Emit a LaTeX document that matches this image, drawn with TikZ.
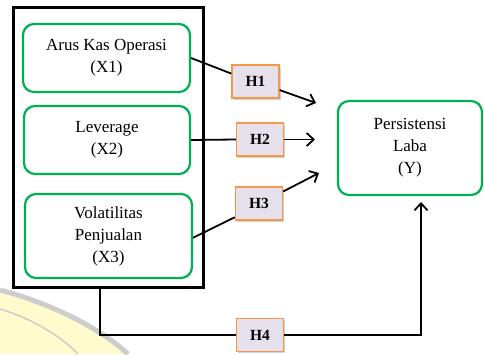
\documentclass[tikz,border=0pt]{standalone}
\usepackage{fontspec}
\setmainfont{Liberation Serif}
\usetikzlibrary{arrows.meta,calc,shadows}
\definecolor{boxgreen}{RGB}{0,176,80}
\definecolor{hborder}{RGB}{247,150,70}
\definecolor{hfill}{RGB}{230,224,236}
\definecolor{wmyellow}{RGB}{255,251,204}
\definecolor{wmgrey}{RGB}{205,205,205}
\tikzset{
  varbox/.style={draw=boxgreen, line width=2.2pt, rounded corners=11pt, fill=white,
    align=center, font=\fontsize{17}{22}\selectfont, inner sep=0pt},
  hbox/.style={draw=hborder, line width=1.3pt, fill=hfill, minimum width=47pt,
    minimum height=33pt, inner sep=0pt, font=\fontsize{15.5}{18}\selectfont\bfseries,
    drop shadow={shadow xshift=1.5pt, shadow yshift=-1.5pt, opacity=0.35, fill=gray}},
  conn/.style={draw=black, line width=1.8pt},
  arr/.style={conn, -{Straight Barb[length=7pt,width=13pt,line width=1.8pt]}},
}
\begin{document}
\begin{tikzpicture}[x=1pt,y=-1pt]
\useasboundingbox (0,0) rectangle (484,354);
% watermark
\fill[wmyellow] (0,290) .. controls (50,303) and (100,328) .. (128,354) -- (0,354) -- cycle;
\draw[wmgrey, line width=5pt] (0,290) .. controls (50,303) and (100,328) .. (128,354);
\draw[wmgrey, line width=1.5pt] (0,309) .. controls (30,318) and (60,335) .. (78,354);
% outer frame
\node[draw=black, line width=3pt, minimum width=190pt, minimum height=280pt, inner sep=0pt] (frame) at (108,147) {};
% variables
\node[varbox, minimum width=167pt, minimum height=68pt] (X1) at (106.5,58) {Arus Kas Operasi\\(X1)};
\node[varbox, minimum width=166pt, minimum height=68pt] (X2) at (107,140) {Leverage\\(X2)};
\node[varbox, minimum width=167pt, minimum height=84pt] (X3) at (108.5,236) {Volatilitas\\Penjualan\\(X3)};
\node[varbox, minimum width=144pt, minimum height=94pt] (Y) at (410,148) {Persistensi\\Laba\\(Y)};
% hypotheses
\node[hbox] (H1) at (255.5,81.5) {H1};
\node[hbox] (H2) at (260,139.5) {H2};
\node[hbox] (H3) at (259,203.5) {H3};
\node[hbox] (H4) at (260,335) {H4};
% free arrow ends
\coordinate (t1) at (316,103);
\coordinate (t2) at (315,139.5);
\coordinate (t3) at (319,173);
\coordinate (h4turn) at (421,335);
\coordinate (t4) at (421,202);
% connectors
\draw[conn] (X1.east) -- ($(H1.north west)!0.27!(H1.south west)$);
\draw[arr] ($(H1.north east)!0.75!(H1.south east)$) -- (t1);
\draw[conn] (X2.east) -- (H2.west);
\draw[arr] (H2.east) -- (t2);
\draw[conn] ($(X3.north east)!0.52!(X3.south east)$) -- ($(H3.north west)!0.9!(H3.south west)$);
\draw[arr] ($(H3.north east)!0.15!(H3.south east)$) -- (t3);
\draw[conn] (frame.south -| 100,0) |- (H4.west);
\draw[arr] (H4.east) -- (h4turn) -- (t4);
\end{tikzpicture}
\end{document}
